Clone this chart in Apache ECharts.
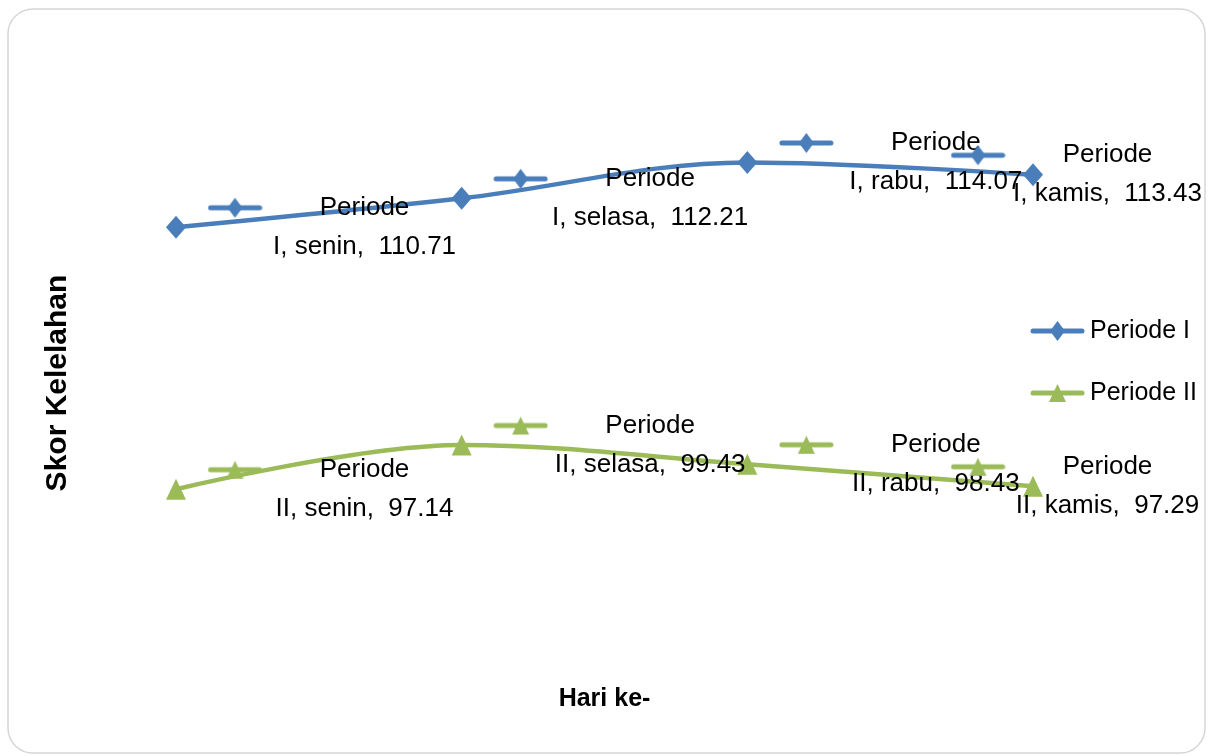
<!DOCTYPE html>
<html>
<head>
<meta charset="utf-8">
<style>
  html, body { margin: 0; padding: 0; background: #ffffff; }
  #chart { width: 1208px; height: 756px; }
</style>
<script src="https://cdn.jsdelivr.net/npm/echarts@6/dist/echarts.min.js"></script>
</head>
<body>
<div id="chart"></div>
<script>
// Days of the week (Indonesian) and fatigue scores for each period
const categories = ['senin', 'selasa', 'rabu', 'kamis'];
const periode1 = [110.71, 112.21, 114.07, 113.43];
const periode2 = [97.14, 99.43, 98.43, 97.29];
const seriesNames = ['Periode I', 'Periode II'];
const periodNumerals = ['I', 'II'];

const BLUE = '#4a7ebb';
const GREEN = '#9bbb59';
const FONT = '"Liberation Sans", Arial, sans-serif';

// Small legend-key image (line + marker) used in the labels and the legend
function makeKey(color, shape) {
  const c = document.createElement('canvas');
  c.width = 55; c.height = 22;
  const g = c.getContext('2d');
  g.strokeStyle = color;
  g.fillStyle = color;
  g.lineWidth = 5;
  g.lineCap = 'round';
  g.beginPath();
  g.moveTo(3, 11); g.lineTo(52, 11);
  g.stroke();
  g.beginPath();
  if (shape === 'diamond') {
    g.moveTo(27.5, 1); g.lineTo(35, 11); g.lineTo(27.5, 21); g.lineTo(20, 11);
  } else {
    g.moveTo(27.5, 2); g.lineTo(36, 20); g.lineTo(19, 20);
  }
  g.closePath();
  g.fill();
  return c;
}

const keys = [makeKey(BLUE, 'diamond'), makeKey(GREEN, 'triangle')];

function buildSeries(idx, values, color, symbol, symbolSize) {
  const last = values.length - 1;
  return {
    name: seriesNames[idx],
    type: 'line',
    smooth: 0.35,
    data: values.map((v, i) => ({
      value: v,
      // the last label is pulled back left so it stays inside the frame
      label: { offset: [i === last ? 46 : 160, 0] }
    })),
    symbol: symbol,
    symbolSize: symbolSize,
    lineStyle: { color: color, width: 4.5 },
    itemStyle: { color: color },
    z: 3,
    label: {
      show: true,
      position: 'inside',
      align: 'center',
      verticalAlign: 'middle',
      color: '#000',
      fontFamily: FONT,
      formatter: p => '{k|}{g|}{p|Periode}\n{s|}{t|' + periodNumerals[idx] + ', ' +
        p.name + ',  ' + p.value.toFixed(2) + '}',
      rich: {
        k: { width: 55, height: 22, backgroundColor: { image: keys[idx] } },
        g: { width: 2 },
        p: { width: 200, align: 'center', fontSize: 26, lineHeight: 39, color: '#000', fontFamily: FONT },
        s: { width: 57 },
        t: { width: 200, align: 'center', fontSize: 26, lineHeight: 39, color: '#000', fontFamily: FONT }
      }
    }
  };
}

const chart = echarts.init(document.getElementById('chart'), null, { renderer: 'canvas' });

chart.setOption({
  backgroundColor: '#ffffff',
  animation: false,
  grid: { left: 176, right: 175, top: 48, height: 579, containLabel: false },
  xAxis: {
    type: 'category',
    data: categories,
    boundaryGap: false,
    axisLine: { show: false },
    axisTick: { show: false },
    axisLabel: { show: false },
    splitLine: { show: false },
    name: 'Hari ke-',
    nameLocation: 'middle',
    nameGap: 60,
    nameTextStyle: { fontSize: 25, fontWeight: 'bold', color: '#000', fontFamily: FONT }
  },
  yAxis: {
    type: 'value',
    min: 90,
    max: 120,
    axisLine: { show: false },
    axisTick: { show: false },
    axisLabel: { show: false },
    splitLine: { show: false }
  },
  legend: {
    data: seriesNames.map((n, i) => ({
      name: n,
      icon: 'image://' + keys[i].toDataURL()
    })),
    orient: 'vertical',
    left: 1025,
    top: 311,
    itemWidth: 55,
    itemHeight: 22,
    itemGap: 32,
    textStyle: { fontSize: 25, color: '#000', fontFamily: FONT, lineHeight: 30 }
  },
  graphic: [
    {
      type: 'rect',
      shape: { x: 8, y: 9, width: 1197, height: 744, r: 25 },
      style: { fill: 'none', stroke: '#d6d6d6', lineWidth: 1.5 },
      silent: true
    },
    {
      type: 'text',
      x: 58,
      y: 383,
      rotation: Math.PI / 2,
      style: {
        text: 'Skor Kelelahan',
        font: 'bold 30px ' + FONT,
        fill: '#000',
        align: 'center',
        verticalAlign: 'middle'
      },
      silent: true
    }
  ],
  series: [
    buildSeries(0, periode1, BLUE, 'diamond', [20, 23]),
    buildSeries(1, periode2, GREEN, 'triangle', [20, 21])
  ]
});
</script>
</body>
</html>
